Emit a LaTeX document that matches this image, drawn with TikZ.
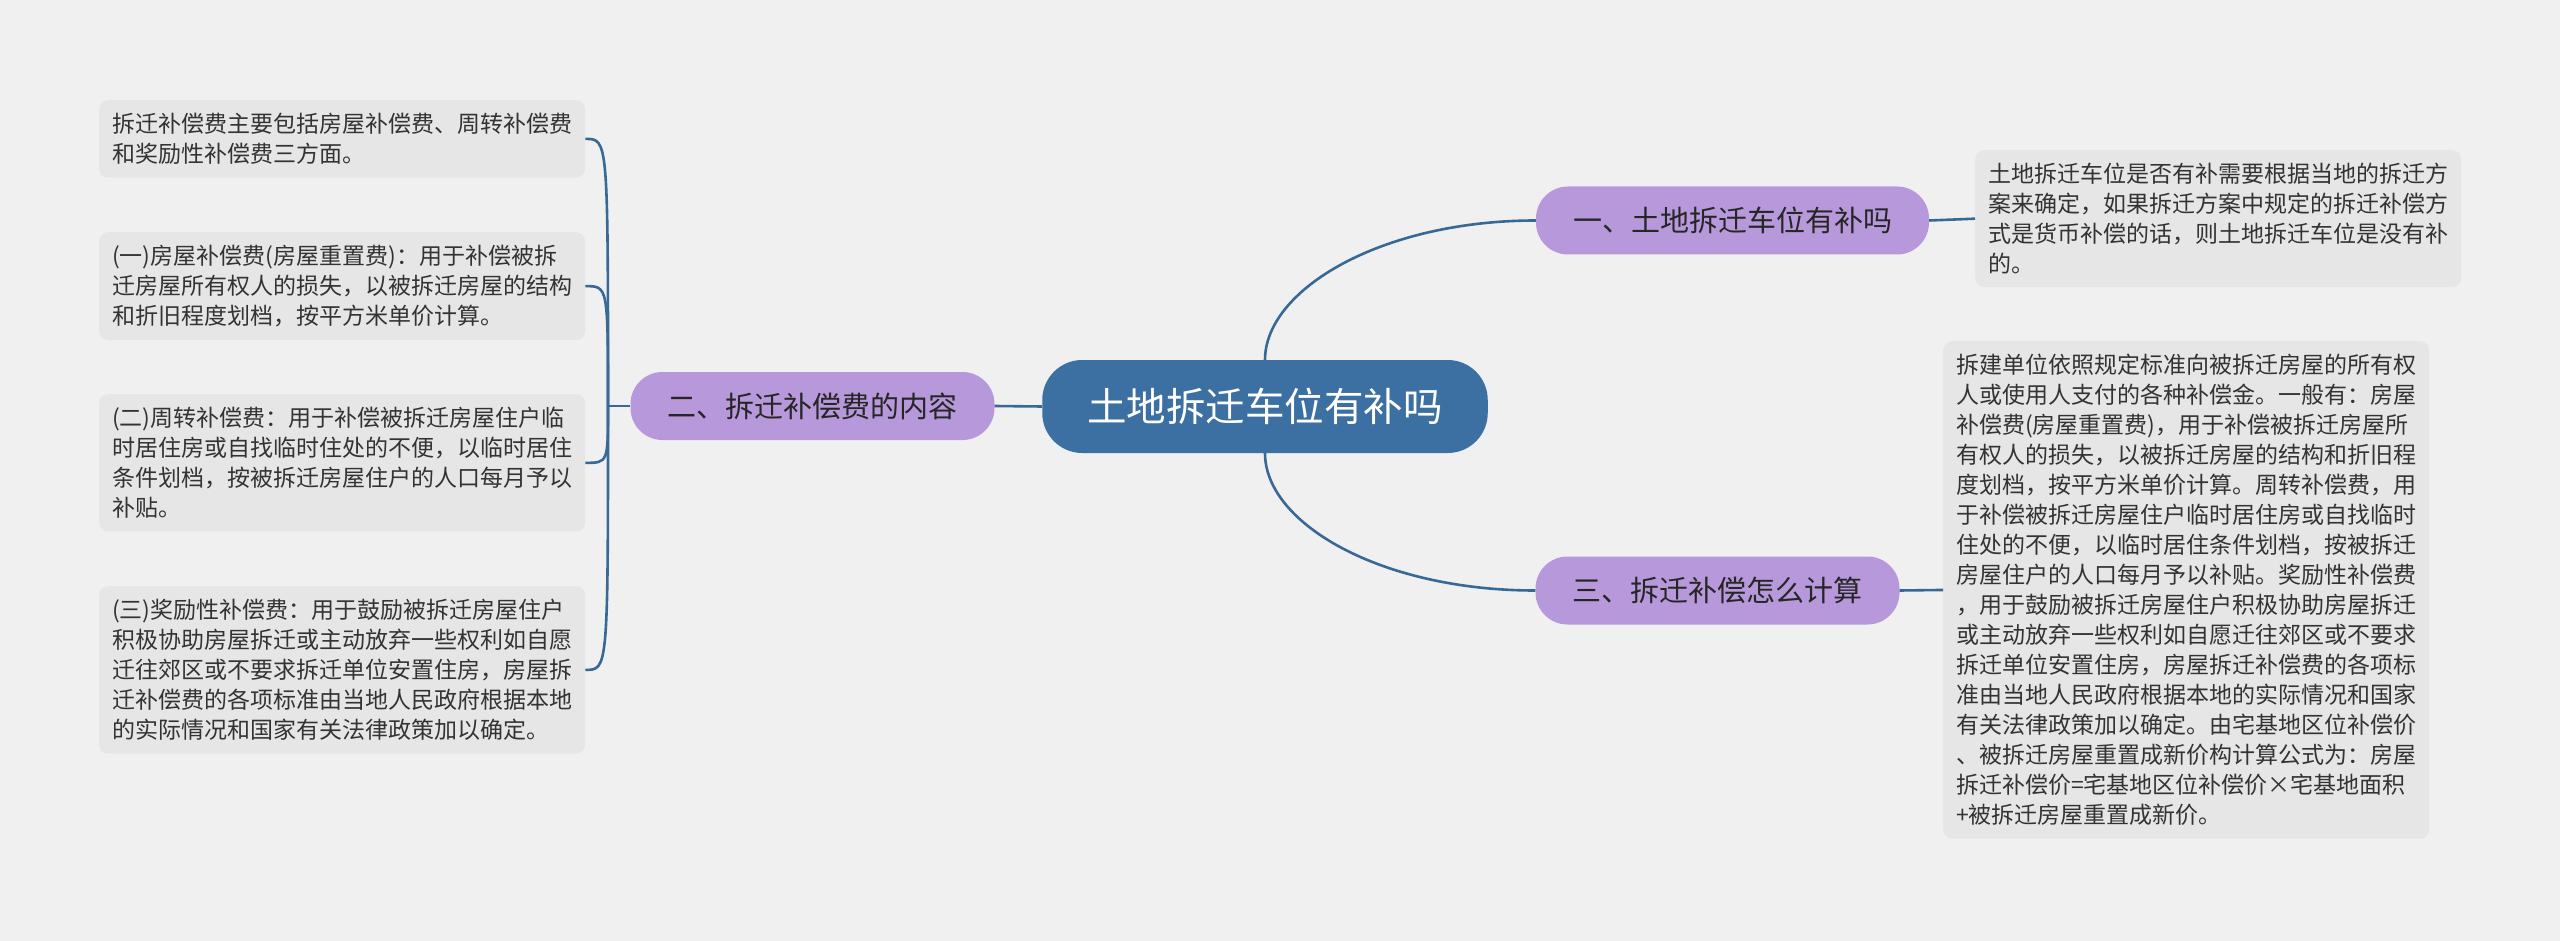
\documentclass[tikz,border=0pt]{standalone}
\usepackage{fontspec}
\newfontfamily\cjkfont{Noto Sans CJK SC}

\definecolor{bgGray}{HTML}{F0F0F0}
\definecolor{rootBlue}{HTML}{3C70A2}
\definecolor{linkBlue}{HTML}{386896}
\definecolor{topicPurple}{HTML}{B798DA}
\definecolor{leafGray}{HTML}{E6E6E6}
\definecolor{leafText}{HTML}{333333}

\begin{document}
\begin{tikzpicture}[
    x=1pt, y=-1pt,
    root/.style={fill=rootBlue, text=white, rounded corners=40pt, minimum height=93pt, inner xsep=45pt, font=\cjkfont\fontsize{39.5}{44}\selectfont},
    topic/.style={fill=topicPurple, text=black!85, rounded corners=32pt, minimum height=68pt, inner xsep=37pt, font=\cjkfont\fontsize{29}{34}\selectfont},
    leaf/.style={fill=leafGray, text=leafText, rounded corners=9pt, anchor=north west, align=left, text width=460pt, inner xsep=13pt, inner ysep=13pt, font=\cjkfont\fontsize{23}{30}\selectfont},
    link/.style={draw=linkBlue, line width=2.6pt}
]

% Canvas
\fill[bgGray] (0,0) rectangle (2560,941);
\useasboundingbox (0,0) rectangle (2560,941);

% Central topic
\node[root] (root) at (1265,406.5) {土地拆迁车位有补吗};

% Main branches
\node[topic] (branchL) at (812.5,406) {二、拆迁补偿费的内容};
\node[topic] (branchA) at (1732.5,220.5) {一、土地拆迁车位有补吗};
\node[topic] (branchC) at (1717.5,590.5) {三、拆迁补偿怎么计算};

% Left leaves
\node[leaf] (leafA) at (99,100) {拆迁补偿费主要包括房屋补偿费、周转补偿费\\
和奖励性补偿费三方面。};
\node[leaf] (leafB) at (99,232) {(一)房屋补偿费(房屋重置费)：用于补偿被拆\\
迁房屋所有权人的损失，以被拆迁房屋的结构\\
和折旧程度划档，按平方米单价计算。};
\node[leaf] (leafC) at (99,394) {(二)周转补偿费：用于补偿被拆迁房屋住户临\\
时居住房或自找临时住处的不便，以临时居住\\
条件划档，按被拆迁房屋住户的人口每月予以\\
补贴。};
\node[leaf] (leafD) at (99,586) {(三)奖励性补偿费：用于鼓励被拆迁房屋住户\\
积极协助房屋拆迁或主动放弃一些权利如自愿\\
迁往郊区或不要求拆迁单位安置住房，房屋拆\\
迁补偿费的各项标准由当地人民政府根据本地\\
的实际情况和国家有关法律政策加以确定。};

% Right leaves
\node[leaf] (leafR1) at (1975,150) {土地拆迁车位是否有补需要根据当地的拆迁方\\
案来确定，如果拆迁方案中规定的拆迁补偿方\\
式是货币补偿的话，则土地拆迁车位是没有补\\
的。};
\node[leaf] (leafR2) at (1943,341) {拆建单位依照规定标准向被拆迁房屋的所有权\\
人或使用人支付的各种补偿金。一般有：房屋\\
补偿费(房屋重置费)，用于补偿被拆迁房屋所\\
有权人的损失，以被拆迁房屋的结构和折旧程\\
度划档，按平方米单价计算。周转补偿费，用\\
于补偿被拆迁房屋住户临时居住房或自找临时\\
住处的不便，以临时居住条件划档，按被拆迁\\
房屋住户的人口每月予以补贴。奖励性补偿费\\
，用于鼓励被拆迁房屋住户积极协助房屋拆迁\\
或主动放弃一些权利如自愿迁往郊区或不要求\\
拆迁单位安置住房，房屋拆迁补偿费的各项标\\
准由当地人民政府根据本地的实际情况和国家\\
有关法律政策加以确定。由宅基地区位补偿价\\
、被拆迁房屋重置成新价构计算公式为：房屋\\
拆迁补偿价=宅基地区位补偿价×宅基地面积\\
+被拆迁房屋重置成新价。};

% Root to branches
\draw[link] (root.west) -- (branchL.east);
\draw[link] (root.north) .. controls +(0,-70) and +(-155,0) .. (branchA.west);
\draw[link] (root.south) .. controls +(0,70) and +(-155,0) .. (branchC.west);

% Left bracket
\coordinate (forkL) at (608,406);
\draw[link] (branchL.west) -- (forkL);
\draw[link] (forkL) .. controls (forkL |- leafA.east) .. (leafA.east);
\draw[link] (forkL) .. controls (forkL |- leafB.east) .. (leafB.east);
\draw[link] (forkL) .. controls (forkL |- leafC.east) .. (leafC.east);
\draw[link] (forkL) .. controls (forkL |- leafD.east) .. (leafD.east);

% Right branches to leaves
\draw[link] (branchA.east) -- (leafR1.west);
\draw[link] (branchC.east) -- (leafR2.west);

\end{tikzpicture}
\end{document}
